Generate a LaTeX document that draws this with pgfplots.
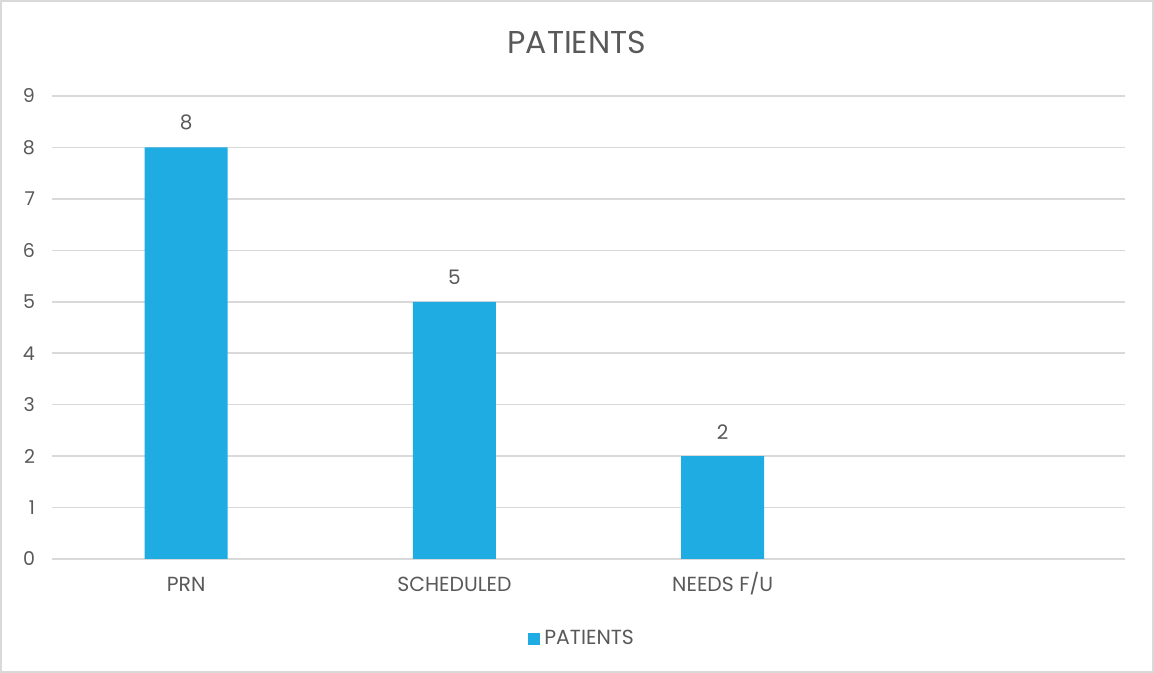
\documentclass[border=0pt]{standalone}
\usepackage{pgfplots}
\pgfplotsset{compat=1.18}
\usepackage{fontspec}
\setmainfont{Poppins}
\definecolor{barblue}{HTML}{1EACE3}
\definecolor{txt}{HTML}{595959}
\definecolor{grid}{HTML}{D9D9D9}
\begin{document}
\begin{tikzpicture}[x=1pt,y=1pt]
\path[draw=grid, line width=0.8pt] (0.4,0.4) rectangle (576.6,336.1);
\begin{axis}[
  at={(26pt,57pt)}, anchor=south west,
  scale only axis, width=536.5pt, height=231.5pt,
  xmin=-0.5, xmax=3.5, ymin=0, ymax=9,
  xtick={0,1,2,3}, xticklabels={PRN,SCHEDULED,NEEDS F/U,{}},
  ytick={0,1,...,9},
  axis line style={draw=none},
  axis x line*=bottom,
  x axis line style={draw=grid, line width=0.8pt},
  major tick length=0pt,
  ymajorgrids, grid style={draw=grid, line width=0.8pt},
  tick label style={font=\fontsize{9.5}{11}\selectfont, text=txt},
  xticklabel style={anchor=base, yshift=-16.5pt, font=\fontsize{10.2}{12}\selectfont},
  yticklabel style={xshift=-5pt},
  /pgf/number format/assume math mode=true,
  title={PATIENTS},
  title style={at={(0.489,1.09)}, anchor=center, font=\fontsize{15.8}{18}\selectfont, text=txt},
  legend style={at={(0.495,-0.172)}, anchor=center, draw=none, font=\fontsize{10.2}{12}\selectfont, text=txt, legend cell align=left, inner sep=0pt},
  legend image code/.code={\fill[barblue] (0pt,-3pt) rectangle (6pt,3pt);},
  nodes near coords, every node near coord/.append style={font=\fontsize{10}{12}\selectfont, text=txt, yshift=5pt},
  clip=false,
]
\addplot[ybar, bar width=41.5pt, fill=barblue, draw=none] coordinates {(0,8) (1,5) (2,2)};
\addlegendentry{PATIENTS}
\end{axis}
\end{tikzpicture}
\end{document}
